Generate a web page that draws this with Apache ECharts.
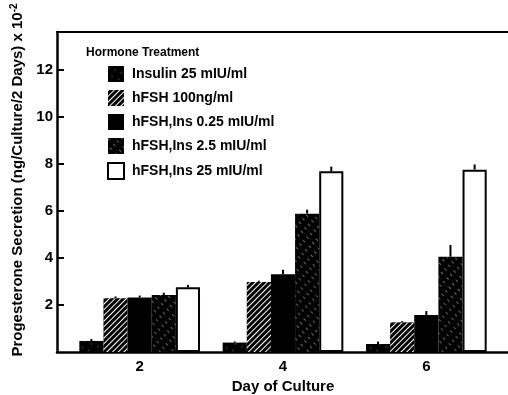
<!DOCTYPE html>
<html><head><meta charset="utf-8">
<script src="https://cdn.jsdelivr.net/npm/echarts@6/dist/echarts.min.js"></script>
<style>html,body{margin:0;padding:0;background:#fff}#c{width:508px;height:395px}</style>
</head><body><div id="c"></div>
<script>
const categories = ['2', '4', '6'];
const seriesNames = ['Insulin 25 mIU/ml', 'hFSH 100ng/ml', 'hFSH,Ins 0.25 mIU/ml', 'hFSH,Ins 2.5 mIU/ml', 'hFSH,Ins 25 mIU/ml'];
const insulin25 = [0.47, 0.40, 0.34];
const hfsh100 = [2.28, 2.98, 1.26];
const hfshIns025 = [2.32, 3.30, 1.57];
const hfshIns25small = [2.42, 5.88, 4.05];
const hfshIns25 = [2.75, 7.68, 7.75];
const errInsulin25 = [0.08, 0.05, 0.10];
const errHfsh100 = [0.08, 0.05, 0.05];
const errHfshIns025 = [0.08, 0.20, 0.17];
const errHfshIns25small = [0.10, 0.17, 0.50];
const errHfshIns25 = [0.10, 0.20, 0.22];
const yTicks = [2, 4, 6, 8, 10, 12];
const yMax = 13.6;

const values = [insulin25, hfsh100, hfshIns025, hfshIns25small, hfshIns25];
const errors = [errInsulin25, errHfsh100, errHfshIns025, errHfshIns25small, errHfshIns25];
const GAP = 0.158;
const FONT = 'Liberation Sans';

const styles = [
  {color: '#000', decal: {symbol: 'circle', symbolSize: 0.5, color: 'rgba(255,255,255,0.8)', dashArrayX: [2, 5], dashArrayY: [2, 5], rotation: 0.4}},
  {color: '#000', decal: {symbol: 'rect', symbolSize: 1, color: '#fff', dashArrayX: [1, 0], dashArrayY: [1, 3], rotation: -Math.PI / 4}},
  {color: '#000'},
  {color: '#000', decal: {symbol: 'rect', symbolSize: 1, color: 'rgba(255,255,255,0.4)', dashArrayX: [3, 5], dashArrayY: [1, 4], rotation: Math.PI / 4}},
  {color: '#fff', borderColor: '#000', borderWidth: 2}
];

const barSeries = values.map((v, i) => ({
  type: 'bar', name: seriesNames[i], xAxisIndex: 2, yAxisIndex: 1,
  data: v, barGap: '0%', barCategoryGap: (GAP * 100) + '%',
  itemStyle: styles[i], z: 3
}));

const errData = [];
errors.forEach((arr, s) => arr.forEach((e, c) => errData.push([c, values[s][c], e, s])));

const errSeries = {
  type: 'custom', xAxisIndex: 2, yAxisIndex: 1, z: 4,
  data: errData, encode: {x: 0, y: 1},
  renderItem: function (params, api) {
    const c = api.value(0), v = api.value(1), e = api.value(2), s = api.value(3);
    const base = api.coord([c, v]);
    const band = api.size([1, 0])[0];
    const bw = band * (1 - GAP) / 5;
    const x = base[0] + (s - 2) * bw;
    const top = api.coord([c, v + e]);
    return {type: 'line', shape: {x1: x, y1: base[1], x2: x, y2: top[1]}, style: {stroke: '#000', lineWidth: 2}};
  }
};

const chart = echarts.init(document.getElementById('c'));
chart.setOption({
  animation: false,
  backgroundColor: '#fff',
  title: {text: 'Hormone Treatment', left: 81, top: 42, textStyle: {fontFamily: FONT, fontWeight: 'bold', fontSize: 12, color: '#000'}},
  legend: {
    data: seriesNames, orient: 'vertical', left: 102, top: 61, itemWidth: 16, itemHeight: 16, itemGap: 8,
    icon: 'rect', selectedMode: false,
    textStyle: {fontFamily: FONT, fontWeight: 'bold', fontSize: 14, color: '#000', padding: [0, 0, 0, 3]}
  },
  grid: [
    {left: 57, top: 32, bottom: 43, right: -20, outerBoundsMode: 'none', containLabel: false},
    {left: 68, top: 32, bottom: 43, width: 430, outerBoundsMode: 'none', containLabel: false}
  ],
  xAxis: [
    {type: 'value', gridIndex: 0, min: 0, max: 1, position: 'bottom', axisLine: {lineStyle: {color: '#000', width: 2.5}}, axisTick: {show: false}, axisLabel: {show: false}, splitLine: {show: false}},
    {type: 'value', gridIndex: 0, min: 0, max: 1, position: 'top', axisLine: {lineStyle: {color: '#000', width: 2}}, axisTick: {show: false}, axisLabel: {show: false}, splitLine: {show: false}},
    {type: 'category', gridIndex: 1, data: categories, axisLine: {show: false}, axisTick: {show: false},
      axisLabel: {margin: 7, fontFamily: FONT, fontWeight: 'bold', fontSize: 15, color: '#000'},
      name: 'Day of Culture', nameLocation: 'middle', nameGap: 27,
      nameTextStyle: {fontFamily: FONT, fontWeight: 'bold', fontSize: 15, color: '#000'}}
  ],
  yAxis: [
    {type: 'value', gridIndex: 0, min: 0, max: yMax, interval: 2,
      axisLine: {show: true, lineStyle: {color: '#000', width: 2.5}},
      axisTick: {show: true, inside: true, length: 7, customValues: yTicks, lineStyle: {color: '#000', width: 2}},
      axisLabel: {customValues: yTicks, margin: 4, fontFamily: FONT, fontWeight: 'bold', fontSize: 15, color: '#000'},
      splitLine: {show: false},
      name: 'Progesterone Secretion (ng/Culture/2 Days) x 10{sup|-2}', nameLocation: 'middle', nameGap: 26,
      nameTextStyle: {fontFamily: FONT, fontWeight: 'bold', fontSize: 15, color: '#000', padding: [0, 0, 0, 24],
        rich: {sup: {fontFamily: FONT, fontWeight: 'bold', fontSize: 10, color: '#000', verticalAlign: 'top', padding: [0, 0, 8, 0]}}}},
    {type: 'value', gridIndex: 1, min: 0, max: yMax, show: false, splitLine: {show: false}}
  ],
  series: barSeries.concat([errSeries])
});
</script></body></html>
